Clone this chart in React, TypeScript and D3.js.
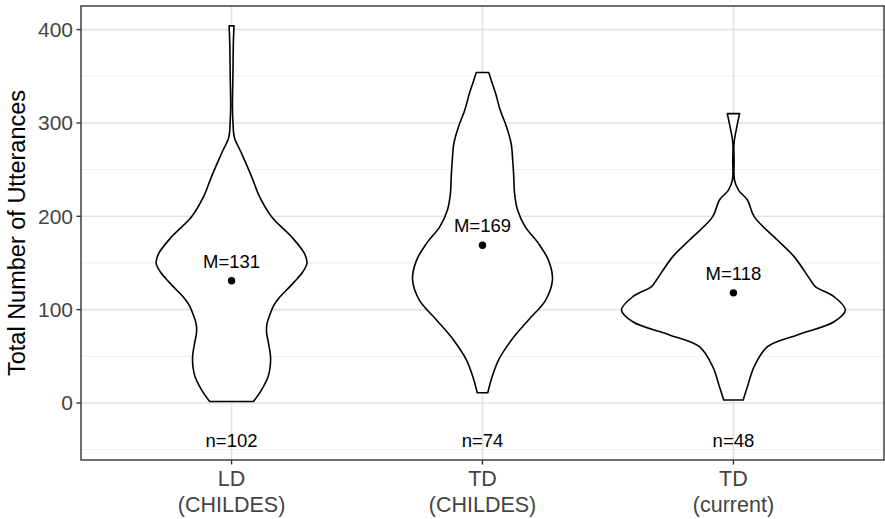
import React from "react";
import * as d3 from "d3";

// ---- data ----
const groupLine1 = ["LD", "TD", "TD"];
const groupLine2 = ["(CHILDES)", "(CHILDES)", "(current)"];
const groupMeans = [131, 169, 118];
const groupCounts = [102, 74, 48];
const yTicks = [0, 100, 200, 300, 400];
const yMinorTicks = [-50, 50, 150, 250, 350];

// violin outlines: utterance values and relative density (half width)
const ldValues = [404, 385, 350, 317, 300, 285, 267.5, 242.5, 221, 199.6, 178, 160, 150, 140, 130, 121, 112, 104, 95, 85, 76, 64, 50, 38, 28, 14, 1.5];
const ldDensity = [0.022, 0.016, 0.012, 0.008, 0.013, 0.024, 0.089, 0.179, 0.25, 0.357, 0.536, 0.652, 0.674, 0.634, 0.5625, 0.491, 0.42, 0.375, 0.344, 0.317, 0.3125, 0.33, 0.348, 0.344, 0.326, 0.268, 0.196];

const tdcValues = [354, 345, 332, 314, 296, 278, 260, 243, 225, 207, 189, 171, 153, 132, 110, 89, 67.5, 46, 25, 11];
const tdcDensity = [0.056, 0.08, 0.116, 0.158, 0.214, 0.256, 0.27, 0.279, 0.286, 0.3125, 0.381, 0.5, 0.589, 0.625, 0.563, 0.411, 0.259, 0.143, 0.078, 0.047];

const tdnValues = [310, 294, 278, 260, 239, 228, 217.5, 199.6, 174.6, 156.8, 131.8, 124.6, 113.9, 99.6, 87, 72.9, 60.3, 38.9, 17.5, 3.2];
const tdnDensity = [0.055, 0.027, 0.005, 0.006, 0.009, 0.045, 0.125, 0.185, 0.393, 0.542, 0.688, 0.732, 0.899, 1.0, 0.899, 0.571, 0.304, 0.185, 0.125, 0.087];

const violinValues = [ldValues, tdcValues, tdnValues];
const violinDensity = [ldDensity, tdcDensity, tdnDensity];

const W = 885;
const H = 519;
const panel = { left: 81, right: 884, top: 6, bottom: 460 };

export default function App() {
  const x = d3.scaleLinear().domain([0.4, 3.6]).range([panel.left, panel.right]);
  const y = d3.scaleLinear().domain([-61.1, 425.3]).range([panel.bottom, panel.top]);
  const step = x(2) - x(1);
  const w = d3.scaleLinear().domain([0, 1]).range([0, 0.446 * step]);

  const font = "Liberation Sans, Arial, Helvetica, sans-serif";

  const violins = violinValues.map((vals, gi) => {
    const cx = x(gi + 1);
    const pts = vals.map((v, i) => ({ v, d: violinDensity[gi][i] }));
    const area = d3
      .area<{ v: number; d: number }>()
      .y((p) => y(p.v))
      .x0((p) => cx - w(p.d))
      .x1((p) => cx + w(p.d))
      .curve(d3.curveCatmullRom.alpha(0.5));
    return area(pts) as string;
  });

  return (
    <svg
      width={W}
      height={H}
      style={{ position: "absolute", left: 0, top: 0, background: "#fff" }}
      fontFamily={font}
    >
      <rect x={0} y={0} width={W} height={H} fill="#fff" />
      {/* minor grid */}
      {yMinorTicks.map((t) => (
        <line key={"m" + t} x1={panel.left} x2={panel.right} y1={y(t)} y2={y(t)} stroke="#EDEDED" strokeWidth={1} />
      ))}
      {/* major grid */}
      {yTicks.map((t) => (
        <line key={"g" + t} x1={panel.left} x2={panel.right} y1={y(t)} y2={y(t)} stroke="#E2E2E2" strokeWidth={1.6} />
      ))}
      {groupMeans.map((_, i) => (
        <line key={"gx" + i} x1={x(i + 1)} x2={x(i + 1)} y1={panel.top} y2={panel.bottom} stroke="#E2E2E2" strokeWidth={1.6} />
      ))}
      {/* violins */}
      {violins.map((d, i) => (
        <path key={"v" + i} d={d} fill="#fff" stroke="#000" strokeWidth={1.6} strokeLinejoin="round" />
      ))}
      {/* mean points and labels */}
      {groupMeans.map((m, i) => (
        <g key={"mean" + i}>
          <circle cx={x(i + 1)} cy={y(m)} r={3.7} fill="#000" />
          <text x={x(i + 1)} y={y(m) - 13} textAnchor="middle" fontSize={18.5} fill="#000">
            {"M=" + m}
          </text>
          <text x={x(i + 1)} y={y(-47)} textAnchor="middle" fontSize={18.5} fill="#000">
            {"n=" + groupCounts[i]}
          </text>
        </g>
      ))}
      {/* panel border */}
      <rect
        x={panel.left}
        y={panel.top}
        width={panel.right - panel.left}
        height={panel.bottom - panel.top}
        fill="none"
        stroke="#333"
        strokeWidth={1.4}
      />
      {/* y axis */}
      {yTicks.map((t) => (
        <g key={"yt" + t}>
          <line x1={panel.left - 4.5} x2={panel.left} y1={y(t)} y2={y(t)} stroke="#333" strokeWidth={1.4} />
          <text x={panel.left - 8} y={y(t) + 7.5} textAnchor="end" fontSize={21} fill="#444">
            {t}
          </text>
        </g>
      ))}
      {/* x axis */}
      {groupLine1.map((l, i) => (
        <g key={"xt" + i}>
          <line x1={x(i + 1)} x2={x(i + 1)} y1={panel.bottom} y2={panel.bottom + 4.5} stroke="#333" strokeWidth={1.4} />
          <text x={x(i + 1)} y={485.5} textAnchor="middle" fontSize={21.5} fill="#444">
            {l}
          </text>
          <text x={x(i + 1)} y={511.5} textAnchor="middle" fontSize={21.5} fill="#444">
            {groupLine2[i]}
          </text>
        </g>
      ))}
      <text
        transform={`translate(25,${(panel.top + panel.bottom) / 2}) rotate(-90)`}
        textAnchor="middle"
        fontSize={23.5}
        fill="#000"
      >
        Total Number of Utterances
      </text>
    </svg>
  );
}
